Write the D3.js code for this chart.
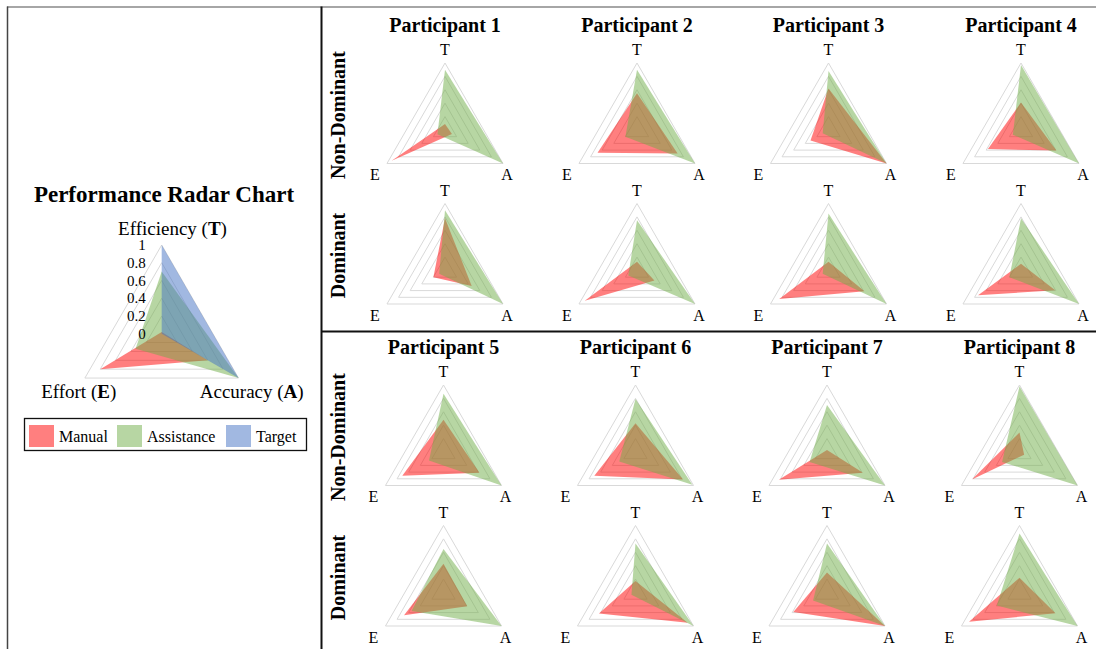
<!DOCTYPE html>
<html>
<head>
<meta charset="utf-8">
<script src="https://cdn.jsdelivr.net/npm/d3@7"></script>
<style>
  body { margin: 0; background: #fff; }
  svg { display: block; font-family: "Liberation Serif", "Times New Roman", serif; }
</style>
</head>
<body>
<div id="chart"></div>
<script>
// axes in drawing order (clockwise from top)
var AXES = ['T', 'A', 'E'];
var LEVELS = [0.2, 0.4, 0.6, 0.8, 1.0];
var TICK_LABELS = ['0', '0.2', '0.4', '0.6', '0.8', '1'];
var PARTICIPANTS = ['Participant 1', 'Participant 2', 'Participant 3', 'Participant 4',
                    'Participant 5', 'Participant 6', 'Participant 7', 'Participant 8'];
var CONDITIONS = ['Non-Dominant', 'Dominant'];
var SERIES = ['Manual', 'Assistance', 'Target'];

// overview chart, values [T, A, E]
var overviewManual = [0.02, 0.60, 0.80];
var overviewAssist = [0.70, 1.00, 0.34];
var overviewTarget = [1.00, 1.00, 0.00];

// per participant, values [T, A, E]
var manualND = [
    [0.09, 0.12, 0.92], [0.55, 0.70, 0.68], [0.62, 1.00, 0.31], [0.41, 0.61, 0.57],
    [0.48, 0.62, 0.71], [0.43, 0.82, 0.71], [0.03, 0.62, 0.83], [0.29, 0.08, 0.82]
];
var assistND = [
    [0.90, 1.00, 0.13], [0.90, 1.00, 0.20], [0.88, 1.00, 0.10], [0.97, 1.00, 0.14],
    [0.87, 1.00, 0.25], [0.79, 0.98, 0.28], [0.70, 1.00, 0.30], [0.98, 1.00, 0.30]
];
var manualD = [
    [0.78, 0.46, 0.20], [0.13, 0.30, 0.90], [0.13, 0.62, 0.85], [0.10, 0.59, 0.74],
    [0.43, 0.41, 0.68], [0.17, 0.90, 0.63], [0.30, 1.00, 0.58], [0.22, 0.62, 0.87]
];
var assistD = [
    [0.90, 1.00, 0.10], [0.75, 1.00, 0.15], [0.85, 1.00, 0.10], [0.78, 1.00, 0.20],
    [0.65, 1.00, 0.55], [0.73, 1.00, 0.07], [0.73, 1.00, 0.24], [0.88, 1.00, 0.39]
];

var COLORS = {
    'Manual':     'rgba(255, 0, 0, 0.5)',
    'Assistance': 'rgba(112, 173, 71, 0.5)',
    'Target':     'rgba(68, 114, 196, 0.5)'
};

var WIDTH = 1096, HEIGHT = 649;
var svg = d3.select('#chart').append('svg')
    .attr('width', WIDTH)
    .attr('height', HEIGHT);

var angle = d3.scaleOrdinal()
    .domain(AXES)
    .range([0, 2 * Math.PI / 3, 4 * Math.PI / 3]);

function radar(g, R, series) {
    var sr = d3.scaleLinear().domain([0, 1]).range([0, R]);
    var line = d3.lineRadial()
        .angle(function(d, i) { return angle(AXES[i]); })
        .radius(function(d) { return sr(d); })
        .curve(d3.curveLinearClosed);

    g.selectAll('.ring').data(LEVELS).enter()
        .append('path')
        .attr('class', 'ring')
        .attr('d', function(l) { return line(AXES.map(function() { return l; })); })
        .attr('fill', 'none')
        .attr('stroke', '#d9d9d9')
        .attr('stroke-width', 1);

    g.selectAll('.area').data(series).enter()
        .append('path')
        .attr('class', 'area')
        .attr('d', function(s) { return line(s.values); })
        .attr('fill', function(s) { return COLORS[s.name]; })
        .attr('stroke', 'none');
    return sr;
}

// frame
svg.append('line').attr('x1', 7).attr('x2', WIDTH).attr('y1', 7).attr('y2', 7)
    .attr('stroke', '#888').attr('stroke-width', 1.5);
svg.append('line').attr('x1', 7.5).attr('x2', 7.5).attr('y1', 6.5).attr('y2', HEIGHT)
    .attr('stroke', '#444').attr('stroke-width', 1.5);
svg.append('line').attr('x1', 321.5).attr('x2', 321.5).attr('y1', 6.5).attr('y2', HEIGHT)
    .attr('stroke', '#111').attr('stroke-width', 2);
svg.append('line').attr('x1', 321).attr('x2', WIDTH).attr('y1', 331.5).attr('y2', 331.5)
    .attr('stroke', '#111').attr('stroke-width', 2);

// ---- overview chart
var ov = { cx: 161.7, cy: 333.7, R: 88.7 };
svg.append('text')
    .attr('x', 164).attr('y', 201.5)
    .attr('text-anchor', 'middle')
    .attr('font-size', 23).attr('font-weight', 'bold')
    .text('Performance Radar Chart');

var go = svg.append('g').attr('transform', 'translate(' + ov.cx + ',' + ov.cy + ')');
var sro = radar(go, ov.R, [
    { name: 'Manual', values: overviewManual },
    { name: 'Assistance', values: overviewAssist },
    { name: 'Target', values: overviewTarget }
]);

go.selectAll('.tick').data(TICK_LABELS).enter()
    .append('text')
    .attr('class', 'tick')
    .attr('x', -16)
    .attr('y', function(d) { return -sro(+d); })
    .attr('dy', '0.35em')
    .attr('text-anchor', 'end')
    .attr('font-size', 15)
    .text(function(d) { return d; });

function axisTitle(x, y, pre, bold) {
    var t = svg.append('text')
        .attr('x', x).attr('y', y)
        .attr('text-anchor', 'middle')
        .attr('font-size', 19);
    t.append('tspan').text(pre + ' (');
    t.append('tspan').attr('font-weight', 'bold').text(bold);
    t.append('tspan').text(')');
}
axisTitle(172.5, 235, 'Efficiency', 'T');
axisTitle(78.7, 398, 'Effort', 'E');
axisTitle(251.7, 398, 'Accuracy', 'A');

// legend
svg.append('rect')
    .attr('x', 24.5).attr('y', 418.5).attr('width', 282).attr('height', 32)
    .attr('fill', 'none').attr('stroke', '#111').attr('stroke-width', 1.3);
var LEG_X = [29, 117, 226];
var leg = svg.selectAll('.leg').data(SERIES).enter()
    .append('g')
    .attr('class', 'leg')
    .attr('transform', function(d, i) { return 'translate(' + LEG_X[i] + ',425)'; });
leg.append('rect')
    .attr('width', 25).attr('height', 22)
    .attr('fill', function(d) { return COLORS[d]; });
leg.append('text')
    .attr('x', 30).attr('y', 16.5)
    .attr('font-size', 16)
    .text(function(d) { return d; });

// ---- participant grid
var R = 67;
var COL_X = [445, 637, 828.5, 1021];
var HALF_Y = [0, 322];
var ROW_Y = [130, 270.5];

PARTICIPANTS.forEach(function(p, i) {
    var half = Math.floor(i / 4);
    var cx = COL_X[i % 4] - half * 1.5;
    svg.append('text')
        .attr('x', cx).attr('y', ROW_Y[0] + HALF_Y[half] - 98)
        .attr('text-anchor', 'middle')
        .attr('font-size', 20).attr('font-weight', 'bold')
        .text(p);

    CONDITIONS.forEach(function(c, j) {
        var cy = ROW_Y[j] + HALF_Y[half];
        var g = svg.append('g').attr('transform', 'translate(' + cx + ',' + cy + ')');
        var m = j == 0 ? manualND[i] : manualD[i];
        var a = j == 0 ? assistND[i] : assistD[i];
        radar(g, R, [
            { name: 'Manual', values: m },
            { name: 'Assistance', values: a }
        ]);
        g.append('text').attr('x', 0).attr('y', -75)
            .attr('text-anchor', 'middle').attr('font-size', 16).text('T');
        g.append('text').attr('x', -70).attr('y', 50)
            .attr('text-anchor', 'middle').attr('font-size', 16).text('E');
        g.append('text').attr('x', 62).attr('y', 50)
            .attr('text-anchor', 'middle').attr('font-size', 16).text('A');
    });
});

// row labels
[0, 1].forEach(function(half) {
    CONDITIONS.forEach(function(c, j) {
        var y = ROW_Y[j] + HALF_Y[half] - 15;
        svg.append('text')
            .attr('transform', 'translate(345,' + y + ') rotate(-90)')
            .attr('text-anchor', 'middle')
            .attr('font-size', 20).attr('font-weight', 'bold')
            .text(c);
    });
});
</script>
</body>
</html>
